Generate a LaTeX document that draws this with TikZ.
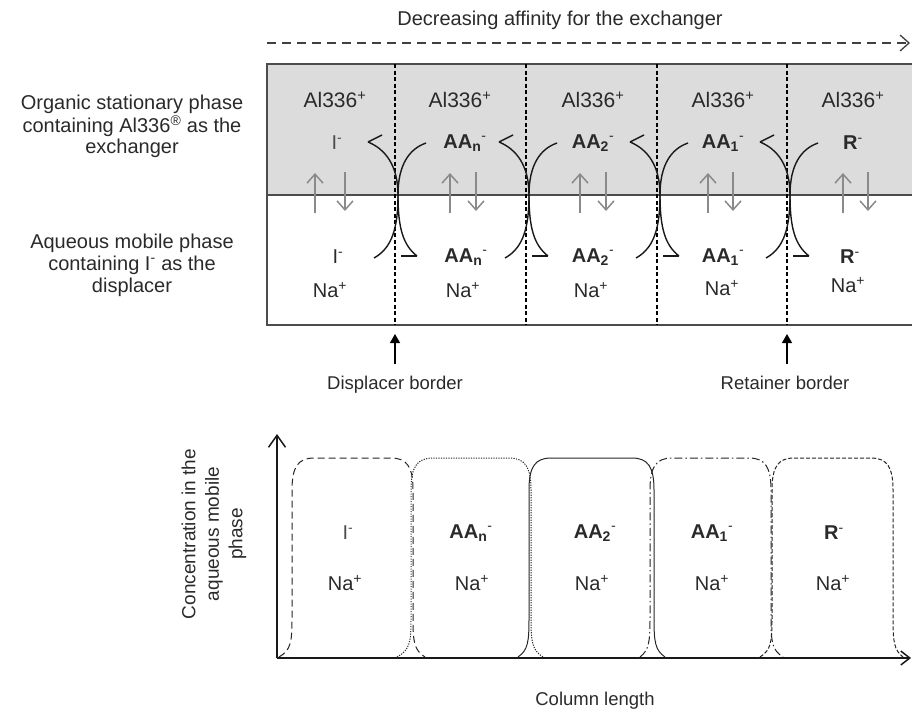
\documentclass[tikz,border=0pt]{standalone}
\usepackage{fontspec}
\setmainfont{Liberation Sans}
\usetikzlibrary{arrows.meta}

\definecolor{statgrey}{HTML}{DCDCDC}
\definecolor{inkgrey}{HTML}{2A2A2A}
\definecolor{flowgrey}{HTML}{8A8A8A}

% ion labels
\newcommand\ionI{I\textsuperscript{-}}
\newcommand\ionIfaint{\textcolor{black!70}{I\textsuperscript{-}}}
\newcommand\ionAAn{\textbf{AA\textsubscript{n}}\textsuperscript{-}}
\newcommand\ionAAtwo{\textbf{AA\textsubscript{2}}\textsuperscript{-}}
\newcommand\ionAAone{\textbf{AA\textsubscript{1}}\textsuperscript{-}}
\newcommand\ionR{\textbf{R}\textsuperscript{-}}
\newcommand\ionNa{Na\textsuperscript{+}}
\newcommand\ionAl{Al336\textsuperscript{+}}

% band profiles: style, base left, edge left, edge right, base right
\newcommand\bandprofile[5]{%
  \draw[peak,#1] (#2,657) .. controls ({#3-1},650) and (#3,642) .. (#3,618)
     -- (#3,490) .. controls (#3,467) and ({#3+6},458) .. ({#3+22},458)
     -- ({#4-22},458) .. controls ({#4-6},458) and (#4,467) .. (#4,490)
     -- (#4,618) .. controls (#4,642) and ({#4+1},650) .. (#5,657);}

\tikzset{
  ion/.style={font=\fontsize{20}{24}\selectfont, text=inkgrey, inner sep=0pt},
  alion/.style={font=\fontsize{21}{24}\selectfont, text=inkgrey, inner sep=0pt},
  lbl/.style={font=\fontsize{18.5}{23.5}\selectfont, text=inkgrey, align=center, inner sep=0pt},
  side/.style={font=\fontsize{20}{22}\selectfont, text=inkgrey, align=center, inner sep=0pt},
  frame/.style={line width=1.1pt, black!70},
  divider/.style={line width=1.2pt, black, dash pattern=on 4pt off 2.5pt},
  flow/.style={line width=1.5pt, flowgrey, -{Straight Barb[length=9pt,width=16pt,line width=1.5pt]}},
  swap/.style={line width=1.4pt, black!90},
  border/.style={line width=1.3pt, black, -{Triangle[length=9pt,width=10pt]}},
  axis/.style={line width=1.5pt, black!90},
  peak/.style={line width=1pt, black!85},
}

\begin{document}
\begin{tikzpicture}[x=1pt,y=-1pt]
\useasboundingbox (0,0) rectangle (912,710);

% affinity direction
\node[side] (aff) at (560,20) {Decreasing affinity for the exchanger};
\coordinate (affL) at (267,43);
\coordinate (affR) at (910,43);
\draw[line width=1.3pt, black!75, dash pattern=on 9pt off 6pt,
      -{Straight Barb[length=9pt,width=16pt,line width=1.3pt]}] (affL) -- (affR);

% column: stationary (top) and mobile (bottom) phases
\fill[statgrey] (267,64) rectangle (912,195);
\draw[frame] (912,64) -- (267,64) -- (267,325) -- (912,325);
\draw[frame] (267,195) -- (912,195);

\foreach \d in {395,526,657,787}
  \draw[divider] (\d,64) -- (\d,325);

% phase labels
\node[side] (orgA) at (132,104) {Organic stationary phase};
\node[side] (orgB) at (132,126) {containing Al336\textsuperscript{®} as the};
\node[side] (orgC) at (132,148) {exchanger};
\node[side] (aqA) at (132,243) {Aqueous mobile phase};
\node[side] (aqB) at (132,265) {containing I\textsuperscript{-} as the};
\node[side] (aqC) at (132,287) {displacer};

% band contents: Al x, upper anion x, Na x, up x, down x, anion, Na y
\foreach \i/\xa/\xu/\xn/\xup/\xdn/\an/\ny in {
    1/335/337/330/315/345/\ionIfaint/290,
    2/460/465/463/450/476/\ionAAn/290,
    3/593/593/591/580/606/\ionAAtwo/290,
    4/723/723/722/708/733/\ionAAone/288,
    5/853/853/848/843/868/\ionR/285} {
  \node[alion] (al\i) at (\xa,100) {\ionAl};
  \node[ion] (su\i) at (\xu,143) {\an};
  \node[ion] (na\i) at (\xn,\ny) {\ionNa};
  \coordinate (upS\i) at (\xup,213);
  \coordinate (upE\i) at (\xup,173);
  \coordinate (dnS\i) at (\xdn,172);
  \coordinate (dnE\i) at (\xdn,211);
  \draw[flow] (upS\i) -- (upE\i);
  \draw[flow] (dnS\i) -- (dnE\i);
}
\node[ion] (mo1) at (338,257) {\ionI};
\node[ion] (mo2) at (466,257) {\ionAAn};
\node[ion] (mo3) at (593,257) {\ionAAtwo};
\node[ion] (mo4) at (723,257) {\ionAAone};
\node[ion] (mo5) at (850,257) {\ionR};

% exchange across each band border
\foreach \d in {395,526,657,787} {
  \coordinate (tip\d) at ({\d-27},142);
  \coordinate (mid\d) at ({\d+3},195);
  \coordinate (hrp\d) at ({\d+22},256);
  \coordinate (qs\d) at ({\d+31},143);
  \coordinate (qe\d) at ({\d-21},258);
  \draw[swap] (tip\d) .. controls ({\d-10},149) and ({\d+3},165) .. (mid\d)
              .. controls ({\d+3},228) and ({\d+8},245) .. (hrp\d);
  \draw[swap] (tip\d) -- ++(14,-7);
  \draw[swap] (hrp\d) -- ++(-16,0);
  \draw[swap] (qs\d) .. controls ({\d+14},149) and ({\d+3},165) .. (mid\d)
              .. controls ({\d+3},228) and ({\d-3},248) .. (qe\d);
}

% border markers
\node[lbl] (disp) at (395,385) {Displacer border};
\node[lbl] (ret) at (785,383) {Retainer border};
\coordinate (dispS) at (395,364);
\coordinate (dispE) at (395,334);
\coordinate (retS) at (787,364);
\coordinate (retE) at (787,334);
\draw[border] (dispS) -- (dispE);
\draw[border] (retS) -- (retE);

% concentration profile
\coordinate (org) at (277,658);
\coordinate (ytop) at (277,434);
\coordinate (xend) at (911,658);
\draw[axis, -{Straight Barb[length=12pt,width=17pt,line width=1.5pt]}] (org) -- (ytop);
\draw[axis, -{Straight Barb[length=9pt,width=14pt,line width=1.5pt]}] (org) -- (xend);

\node[lbl, rotate=90, font=\fontsize{19}{23.5}\selectfont] (yl) at (214,534) {Concentration in the\\aqueous mobile\\phase};
\node[lbl] (xl) at (595,701) {Column length};

\bandprofile{dash pattern=on 7pt off 4pt}{279}{292}{413}{425}
\bandprofile{dash pattern=on 1.2pt off 1.3pt}{397}{411}{531}{543}
\bandprofile{}{518}{529}{654}{665}
\bandprofile{dash pattern=on 8pt off 3pt on 1.5pt off 3pt}{640}{650}{771}{783}
\bandprofile{dash pattern=on 4pt off 2pt}{760}{772}{893}{903}

\node[ion] (pk1) at (348,533) {\ionIfaint};
\node[ion] (pk2) at (471,533) {\ionAAn};
\node[ion] (pk3) at (595,533) {\ionAAtwo};
\node[ion] (pk4) at (712,533) {\ionAAone};
\node[ion] (pk5) at (834,533) {\ionR};
\node[ion] (pn1) at (345,583) {\ionNa};
\node[ion] (pn2) at (472,583) {\ionNa};
\node[ion] (pn3) at (592,583) {\ionNa};
\node[ion] (pn4) at (712,583) {\ionNa};
\node[ion] (pn5) at (833,583) {\ionNa};
\end{tikzpicture}
\end{document}
